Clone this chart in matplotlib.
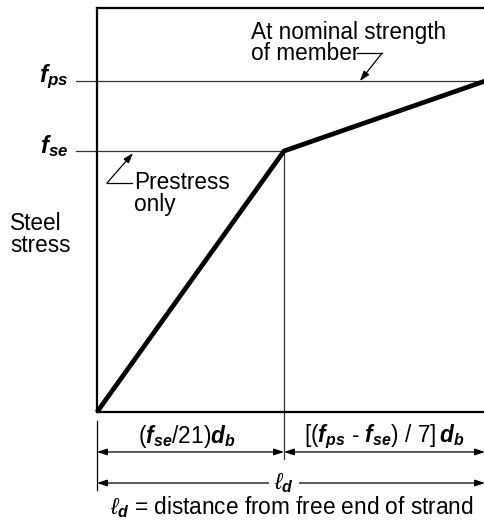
import matplotlib
matplotlib.use("Agg")
import matplotlib.pyplot as plt

plt.rcParams['font.family'] = ['Liberation Sans', 'DejaVu Sans']
plt.rcParams['mathtext.fontset'] = 'custom'
plt.rcParams['mathtext.rm'] = 'Liberation Sans'
plt.rcParams['mathtext.it'] = 'Liberation Sans:italic'
plt.rcParams['mathtext.bf'] = 'Liberation Sans:bold'
plt.rcParams['mathtext.bfit'] = 'Liberation Sans:italic:bold'

# Idealised bilinear relation between steel stress and distance from the
# free end of the strand (stress normalised by f_se, length by the transfer length)
f_se = 1.0
f_ps = 1.268
transfer_length = 1.0        # (f_se/21) d_b
development_length = 2.075   # l_d
distance = [0.0, transfer_length, development_length]
steel_stress = [0.0, f_se, f_ps]

FS = 16.3
LINE = '#333333'

fig = plt.figure(figsize=(4.85, 5.22), dpi=100)
ax = fig.add_axes([0.2, 0.2107, 0.8, 0.774])
ax.set_xlim(0, development_length)
ax.set_ylim(0, 1.548)
ax.set_xticks([])
ax.set_yticks([])
ax.spines['right'].set_visible(False)
for side in ('left', 'bottom', 'top'):
    ax.spines[side].set_linewidth(1.6)

# stress levels
ax.plot([-0.112, development_length], [f_ps, f_ps], color=LINE, lw=0.9, clip_on=False, zorder=2)
ax.plot([-0.112, transfer_length], [f_se, f_se], color=LINE, lw=0.9, clip_on=False, zorder=2)
ax.plot([transfer_length, transfer_length], [f_se, -0.180], color=LINE, lw=0.9, clip_on=False, zorder=2)

# stress development curve
ax.plot(distance, steel_stress, color='black', lw=3.4, solid_joinstyle='miter',
        solid_capstyle='butt', clip_on=False, zorder=3)

# y-level labels
ax.text(-0.155, f_ps - 0.004, r'$\mathbfit{f}_{\mathbfit{ps}}$', fontsize=FS + 1,
        ha='right', va='baseline')
ax.text(-0.155, f_se - 0.008, r'$\mathbfit{f}_{\mathbfit{se}}$', fontsize=FS + 1,
        ha='right', va='baseline')
# multi-line labels are anchored on the baseline of their last line
ax.text(-0.465, 0.613, 'Steel\nstress', fontsize=FS, ha='left', va='baseline',
        linespacing=0.95)

# leaders
head = dict(arrowstyle='-|>,head_length=0.6,head_width=0.2', mutation_scale=10,
            lw=0.9, color='black', shrinkA=0, shrinkB=0)
ax.plot([0.187, 0.053], [0.877, 0.877], color='black', lw=0.9, clip_on=False)
ax.annotate('', xy=(0.193, 0.992), xytext=(0.053, 0.877), arrowprops=head,
            annotation_clip=False)
ax.text(0.198, 0.770, 'Prestress\nonly', fontsize=FS, ha='left', va='baseline',
        linespacing=0.92)

ax.plot([1.390, 1.524], [1.375, 1.375], color='black', lw=0.9, clip_on=False)
ax.annotate('', xy=(1.406, f_ps), xytext=(1.524, 1.375), arrowprops=head,
            annotation_clip=False)
ax.text(0.824, 1.350, 'At nominal strength\nof member', fontsize=FS, ha='left',
        va='baseline', linespacing=0.88)

# dimension lines
dim = dict(arrowstyle='<|-|>,head_length=0.6,head_width=0.2', mutation_scale=10,
           lw=0.9, color='black', shrinkA=0, shrinkB=0)
ax.plot([0, 0], [-0.034, -0.299], color='black', lw=0.9, clip_on=False)
ax.annotate('', xy=(transfer_length, -0.153), xytext=(0, -0.153), arrowprops=dim,
            annotation_clip=False)
ax.annotate('', xy=(development_length, -0.153), xytext=(transfer_length, -0.153),
            arrowprops=dim, annotation_clip=False)
ax.annotate('', xy=(development_length, -0.272), xytext=(0, -0.272), arrowprops=dim,
            annotation_clip=False)

ax.text(transfer_length / 2 - 0.02, -0.119,
        r'($\mathbfit{f}_{\mathbfit{se}}$/21)$\mathbfit{d}_{\mathbfit{b}}$',
        fontsize=FS, ha='center', va='baseline')
ax.text((transfer_length + development_length) / 2, -0.115,
        r'[($\mathbfit{f}_{\mathbfit{ps}}$ - $\mathbfit{f}_{\mathbfit{se}}$) / 7]$\,\mathbfit{d}_{\mathbfit{b}}$',
        fontsize=FS, ha='center', va='baseline')
ax.text(transfer_length, -0.272, r'$\ell_{\mathbfit{d}}$', fontsize=FS,
        ha='center', va='center', zorder=5,
        bbox=dict(facecolor='white', edgecolor='none', pad=4))
ax.text(1.043, -0.391, r'$\ell_{\mathbfit{d}}$ = distance from free end of strand',
        fontsize=FS, ha='center', va='baseline')

fig.savefig('out.png', dpi=100)
